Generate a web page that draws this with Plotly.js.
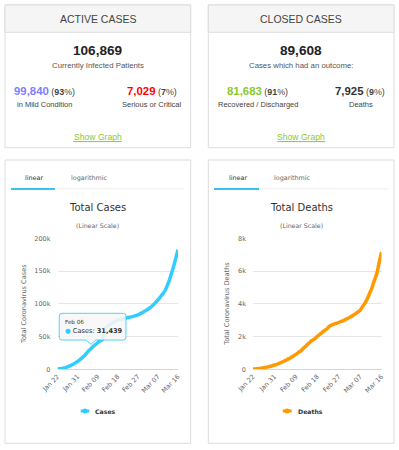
<!DOCTYPE html>
<html>
<head>
<meta charset="utf-8">
<script src="https://cdn.plot.ly/plotly-3.0.1.min.js"></script>
<style>
  html, body { margin: 0; padding: 0; background: #fff; }
  #chart { width: 399px; height: 450px; }
</style>
</head>
<body>
<div id="chart"></div>
<script>
// ---- data ----
const dates = [
  '2020-01-22','2020-01-23','2020-01-24','2020-01-25','2020-01-26','2020-01-27','2020-01-28','2020-01-29','2020-01-30','2020-01-31',
  '2020-02-01','2020-02-02','2020-02-03','2020-02-04','2020-02-05','2020-02-06','2020-02-07','2020-02-08','2020-02-09','2020-02-10',
  '2020-02-11','2020-02-12','2020-02-13','2020-02-14','2020-02-15','2020-02-16','2020-02-17','2020-02-18','2020-02-19','2020-02-20',
  '2020-02-21','2020-02-22','2020-02-23','2020-02-24','2020-02-25','2020-02-26','2020-02-27','2020-02-28','2020-02-29',
  '2020-03-01','2020-03-02','2020-03-03','2020-03-04','2020-03-05','2020-03-06','2020-03-07','2020-03-08','2020-03-09','2020-03-10',
  '2020-03-11','2020-03-12','2020-03-13','2020-03-14','2020-03-15','2020-03-16'
];
const totalCases = [
  580, 845, 1317, 2015, 2800, 4581, 6058, 7813, 9823, 11950,
  14553, 17391, 20630, 24545, 28266, 31439, 34876, 37552, 40553, 43099,
  45134, 59287, 64438, 67100, 69197, 71329, 73332, 75184, 75700, 76677,
  77673, 78651, 79205, 80087, 80828, 81820, 83112, 84615, 86604,
  88585, 90443, 93016, 95314, 98425, 102050, 106099, 109991, 114381, 118948,
  126214, 134576, 145483, 156653, 169593, 182490
];
const totalDeaths = [
  17, 25, 41, 56, 80, 106, 132, 170, 213, 259,
  304, 362, 426, 492, 565, 638, 724, 813, 910, 1018,
  1115, 1261, 1383, 1526, 1669, 1775, 1873, 2009, 2126, 2247,
  2360, 2460, 2618, 2699, 2763, 2800, 2858, 2923, 2977,
  3050, 3117, 3202, 3285, 3387, 3494, 3599, 3827, 4025, 4296,
  4628, 4981, 5428, 5833, 6519, 7162
];
const xTickVals = ['2020-01-22','2020-01-31','2020-02-09','2020-02-18','2020-02-27','2020-03-07','2020-03-16'];
const xTickText = ['Jan 22','Jan 31','Feb 09','Feb 18','Feb 27','Mar 07','Mar 16'];
const casesTickVals = [0, 50000, 100000, 150000, 200000];
const casesTickText = ['0', '50k', '100k', '150k', '200k'];
const deathsTickVals = [0, 2000, 4000, 6000, 8000];
const deathsTickText = ['0', '2k', '4k', '6k', '8k'];

const activeTotal = '106,869', mildVal = '99,840', mildPct = '93', seriousVal = '7,029', seriousPct = '7';
const closedTotal = '89,608', recoveredVal = '81,683', recoveredPct = '91', deathsVal = '7,925', deathsPct = '9';
const tooltipDate = '2020-02-06';

// ---- layout helpers ----
const W = 399, H = 450;
const px = v => v / W;
const py = v => 1 - v / H;
const CARD = 'Liberation Sans, Arial, sans-serif';
const CH = 'DejaVu Sans, sans-serif';
const casesColor = '#33ccff';
const deathsColor = '#ff9900';
const green = '#8aca2b';

function txt(text, x, y, size, color, opts) {
  return Object.assign({
    text: text, x: px(x), y: py(y), xref: 'paper', yref: 'paper',
    xanchor: 'center', yanchor: 'middle', showarrow: false,
    font: { family: CARD, size: size, color: color }
  }, opts || {});
}
function rect(x0, y0, x1, y1, fill, line) {
  return { type: 'rect', xref: 'paper', yref: 'paper', x0: px(x0), x1: px(x1), y0: py(y0), y1: py(y1),
    fillcolor: fill, line: { color: line || '#dddddd', width: 1 }, layer: 'below' };
}
function hline(x0, x1, y, color, w) {
  return { type: 'line', xref: 'paper', yref: 'paper', x0: px(x0), x1: px(x1), y0: py(y), y1: py(y),
    line: { color: color, width: w }, layer: 'below' };
}

const shapes = [
  rect(5, 5, 190.7, 147.7, '#ffffff'),
  rect(5, 5, 190.7, 32.3, '#f5f5f5'),
  rect(208.3, 5, 394, 147.7, '#ffffff'),
  rect(208.3, 5, 394, 32.3, '#f5f5f5'),
  rect(5, 160, 190.7, 443.3, '#ffffff'),
  rect(208.3, 160, 394, 443.3, '#ffffff'),
  hline(11, 184, 188.8, '#eeeeee', 1),
  hline(11, 55, 189, '#3bc0f0', 2),
  hline(214, 388.3, 188.8, '#eeeeee', 1),
  hline(214, 259, 189, '#3bc0f0', 2),
  hline(73.3, 121.7, 141.6, green, 1),
  hline(277.3, 325, 141.6, green, 1),
  // legend symbols
  { type: 'line', xref: 'paper', yref: 'paper', x0: px(80.7), x1: px(89.3), y0: py(411), y1: py(411), line: { color: casesColor, width: 3 } },
  { type: 'circle', xref: 'paper', yref: 'paper', x0: px(82.5), x1: px(87.5), y0: py(408.5), y1: py(413.5), fillcolor: casesColor, line: { width: 0 } },
  { type: 'line', xref: 'paper', yref: 'paper', x0: px(282.7), x1: px(291.7), y0: py(411), y1: py(411), line: { color: deathsColor, width: 3 } },
  { type: 'circle', xref: 'paper', yref: 'paper', x0: px(284.7), x1: px(289.7), y0: py(408.5), y1: py(413.5), fillcolor: deathsColor, line: { width: 0 } }
];

// tooltip callout anchored on the data point
const ti = dates.indexOf(tooltipDate);
shapes.push({
  type: 'path', xref: 'x', yref: 'y', xsizemode: 'pixel', ysizemode: 'pixel',
  xanchor: dates[ti], yanchor: totalCases[ti],
  path: 'M -29,35.4 Q -31.7,35.4 -31.7,32.7 L -31.7,11.4 Q -31.7,8.7 -29,8.7 L -5,8.7 L 0,4.4 L 5,8.7 L 32.3,8.7 Q 35,8.7 35,11.4 L 35,32.7 Q 35,35.4 32.3,35.4 Z',
  fillcolor: 'rgba(247,247,247,0.88)', line: { color: 'rgba(51,204,255,0.85)', width: 1 }, layer: 'above'
});

function fmtDate(d) {
  const m = ['Jan','Feb','Mar','Apr'][parseInt(d.slice(5, 7), 10) - 1];
  return m + ' ' + d.slice(8, 10);
}

const annotations = [
  // top cards
  txt('ACTIVE CASES', 97.8, 19, 10.5, '#444'),
  txt('CLOSED CASES', 301.2, 19, 10.5, '#444'),
  txt('<b>' + activeTotal + '</b>', 97.8, 50.7, 13.6, '#222'),
  txt('Currently Infected Patients', 97.8, 65.7, 7.8, '#555'),
  txt('<span style="color:#8080ff;font-size:11.4px"><b>' + mildVal + '</b></span><span style="font-size:8.9px"> (<b>' + mildPct + '</b>%)</span>', 44.7, 90.7, 11.4, '#444'),
  txt('in Mild Condition', 44.4, 104.7, 7.5, '#444'),
  txt('<span style="color:#ff0000;font-size:11.4px"><b>' + seriousVal + '</b></span><span style="font-size:8.9px"> (<b>' + seriousPct + '</b>%)</span>', 151.7, 90.7, 11.4, '#444'),
  txt('Serious or Critical', 151.5, 104.7, 7.5, '#444'),
  txt('Show Graph', 97.5, 137, 8.6, green),
  txt('<b>' + closedTotal + '</b>', 301.3, 50.7, 13.6, '#222'),
  txt('Cases which had an outcome:', 300.8, 65.7, 7.8, '#555'),
  txt('<span style="color:' + green + ';font-size:11.4px"><b>' + recoveredVal + '</b></span><span style="font-size:8.9px"> (<b>' + recoveredPct + '</b>%)</span>', 257.3, 90.7, 11.4, '#444'),
  txt('Recovered / Discharged', 257.5, 104.7, 7.5, '#444'),
  txt('<span style="color:#333;font-size:11.4px"><b>' + deathsVal + '</b></span><span style="font-size:8.9px"> (<b>' + deathsPct + '</b>%)</span>', 360.3, 90.7, 11.4, '#444'),
  txt('Deaths', 360.7, 104.7, 7.5, '#444'),
  txt('Show Graph', 301.2, 137, 8.6, green),
  // chart panels
  txt('linear', 34, 177.7, 6.4, '#333', { font: { family: CH, size: 6.4, color: '#333' } }),
  txt('logarithmic', 89, 177.7, 6.4, '#666', { font: { family: CH, size: 6.4, color: '#666' } }),
  txt('linear', 238.3, 177.7, 6.4, '#333', { font: { family: CH, size: 6.4, color: '#333' } }),
  txt('logarithmic', 292.5, 177.7, 6.4, '#666', { font: { family: CH, size: 6.4, color: '#666' } }),
  txt('Total Cases', 97.7, 207.3, 10, '#333', { font: { family: CH, size: 10, color: '#333' } }),
  txt('(Linear Scale)', 97.7, 225.3, 6.25, '#666', { font: { family: CH, size: 6.25, color: '#666' } }),
  txt('Total Deaths', 301, 207.3, 10, '#333', { font: { family: CH, size: 10, color: '#333' } }),
  txt('(Linear Scale)', 301, 225.3, 6.25, '#666', { font: { family: CH, size: 6.25, color: '#666' } }),
  txt('Total Coronavirus Cases', 24, 304, 6.6, '#666', { textangle: -90, font: { family: CH, size: 6.6, color: '#666' } }),
  txt('Total Coronavirus Deaths', 226.7, 304, 6.6, '#666', { textangle: -90, font: { family: CH, size: 6.6, color: '#666' } }),
  txt('<b>Cases</b>', 93.3, 411, 6.2, '#333', { xanchor: 'left', font: { family: CH, size: 6.2, color: '#333' } }),
  txt('<b>Deaths</b>', 295.7, 411, 6.2, '#333', { xanchor: 'left', font: { family: CH, size: 6.2, color: '#333' } }),
  // tooltip text
  { text: fmtDate(dates[ti]), xref: 'x', yref: 'y', x: dates[ti], y: totalCases[ti], showarrow: false,
    xanchor: 'left', yanchor: 'middle', xshift: -27.5, yshift: 26.7, font: { family: CH, size: 5.6, color: '#333' } },
  { text: '<span style="color:' + casesColor + '">●</span> Cases: <b>' + totalCases[ti].toLocaleString('en-US') + '</b>',
    xref: 'x', yref: 'y', x: dates[ti], y: totalCases[ti], showarrow: false,
    xanchor: 'left', yanchor: 'middle', xshift: -27.5, yshift: 18, font: { family: CH, size: 6.6, color: '#333' } }
];

const axisFont = { family: CH, size: 6.5, color: '#666' };
const yDomain = [py(369.3), py(238.3)];

const traces = [
  { x: dates, y: totalCases, xaxis: 'x', yaxis: 'y', type: 'scatter', mode: 'lines', name: 'Cases',
    line: { color: casesColor, width: 3.5, shape: 'spline', smoothing: 1 }, hoverinfo: 'skip' },
  { x: dates, y: totalDeaths, xaxis: 'x2', yaxis: 'y2', type: 'scatter', mode: 'lines', name: 'Deaths',
    line: { color: deathsColor, width: 3.5, shape: 'spline', smoothing: 1 }, hoverinfo: 'skip' }
];

function xAx(domain, anchor) {
  return { domain: domain, anchor: anchor, type: 'date', range: [dates[0], dates[dates.length - 1]],
    tickmode: 'array', tickvals: xTickVals, ticktext: xTickText, tickangle: -45,
    showgrid: false, zeroline: false, showline: true, linecolor: '#ccd6eb', linewidth: 1,
    ticks: '', tickfont: axisFont, fixedrange: true };
}
function yAx(anchor, range, vals, text) {
  return { domain: yDomain, anchor: anchor, range: range, tickmode: 'array', tickvals: vals, ticktext: text,
    showgrid: true, gridcolor: '#e6e6e6', gridwidth: 1, zeroline: false, showline: false,
    ticks: '', tickfont: axisFont, ticklabelstandoff: 6, fixedrange: true };
}

const layout = {
  width: W, height: H, autosize: false,
  margin: { l: 0, r: 0, t: 0, b: 0, pad: 0 },
  paper_bgcolor: '#ffffff', plot_bgcolor: 'rgba(0,0,0,0)',
  showlegend: false,
  xaxis: xAx([px(57.5), px(178)], 'y'),
  yaxis: yAx('x', [0, 200000], casesTickVals, casesTickText),
  xaxis2: xAx([px(253), px(381.5)], 'y2'),
  yaxis2: yAx('x2', [0, 8000], deathsTickVals, deathsTickText),
  shapes: shapes,
  annotations: annotations
};

Plotly.newPlot('chart', traces, layout, { displayModeBar: false, staticPlot: true });
</script>
</body>
</html>
